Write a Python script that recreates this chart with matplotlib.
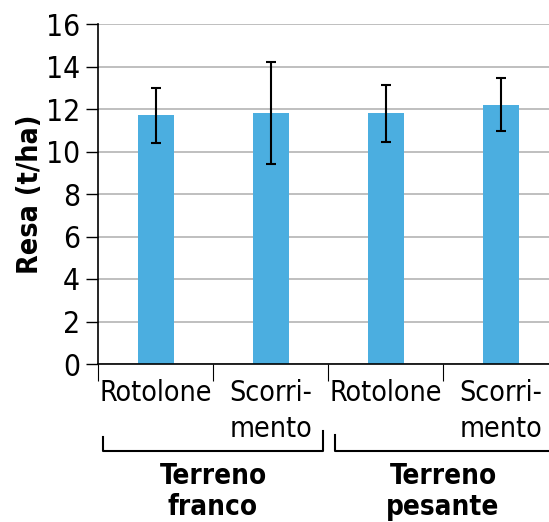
import numpy as np
import matplotlib
matplotlib.use('Agg')
import matplotlib.pyplot as plt

categories = ['Rotolone', 'Scorri-\nmento', 'Rotolone', 'Scorri-\nmento']
resa = [11.7, 11.8, 11.8, 12.2]
errore = [1.3, 2.4, 1.35, 1.25]
gruppi = ['Terreno\nfranco', 'Terreno\npesante']
yticks = [0, 2, 4, 6, 8, 10, 12, 14, 16]

plt.rcParams['font.family'] = ['DejaVu Sans']
plt.rcParams['font.stretch'] = 'condensed'

W, H = 549, 522
fig = plt.figure(figsize=(W / 100, H / 100), dpi=100)
ax = fig.add_axes([98 / W, (H - 364) / H, 460 / W, 340 / H])

x = np.arange(len(categories))
ax.bar(x, resa, width=36 / 115, color='#4baee0', zorder=2)
ax.errorbar(x, resa, yerr=errore, fmt='none', ecolor='black',
            elinewidth=1.5, capsize=3.5, capthick=1.5, zorder=3)

ax.set_xlim(-0.5, 3.5)
ax.set_ylim(0, 16)
ax.set_yticks(yticks)
ax.set_yticklabels([str(v) for v in yticks], fontsize=21.5)
ax.yaxis.grid(True, color='#b4b4b4', linewidth=1.2, zorder=0)
ax.set_axisbelow(True)
ax.tick_params(axis='y', length=9, width=1, pad=4)

ax.set_xticks(x)
ax.set_xticklabels(categories, fontsize=20.5, multialignment='right',
                   linespacing=1.35)
ax.tick_params(axis='x', which='major', length=0, pad=11)
ax.set_xticks([-0.5, 0.5, 1.5, 2.5], minor=True)
ax.tick_params(axis='x', which='minor', length=12, width=0.8)

for side in ['top', 'right']:
    ax.spines[side].set_visible(False)
ax.spines['left'].set_linewidth(1.2)
ax.spines['bottom'].set_linewidth(1.2)

ax.set_ylabel('Resa (t/ha)', fontsize=20.5, fontweight='bold', labelpad=1)

# parentesi sotto le categorie
tr = ax.get_xaxis_transform()
ax.plot([-0.457, -0.457, 1.457, 1.457], [-0.215, -0.256, -0.256, -0.197],
        color='black', linewidth=1.5, transform=tr, clip_on=False)
ax.plot([1.561, 1.561, 3.5], [-0.209, -0.256, -0.256],
        color='black', linewidth=1.5, transform=tr, clip_on=False)

for gx, label in zip([0.5, 2.5], gruppi):
    ax.text(gx, -0.288, label, transform=tr, ha='center', va='top',
            fontsize=20, fontweight='bold', linespacing=1.15)

fig.savefig('out.png', dpi=100)
